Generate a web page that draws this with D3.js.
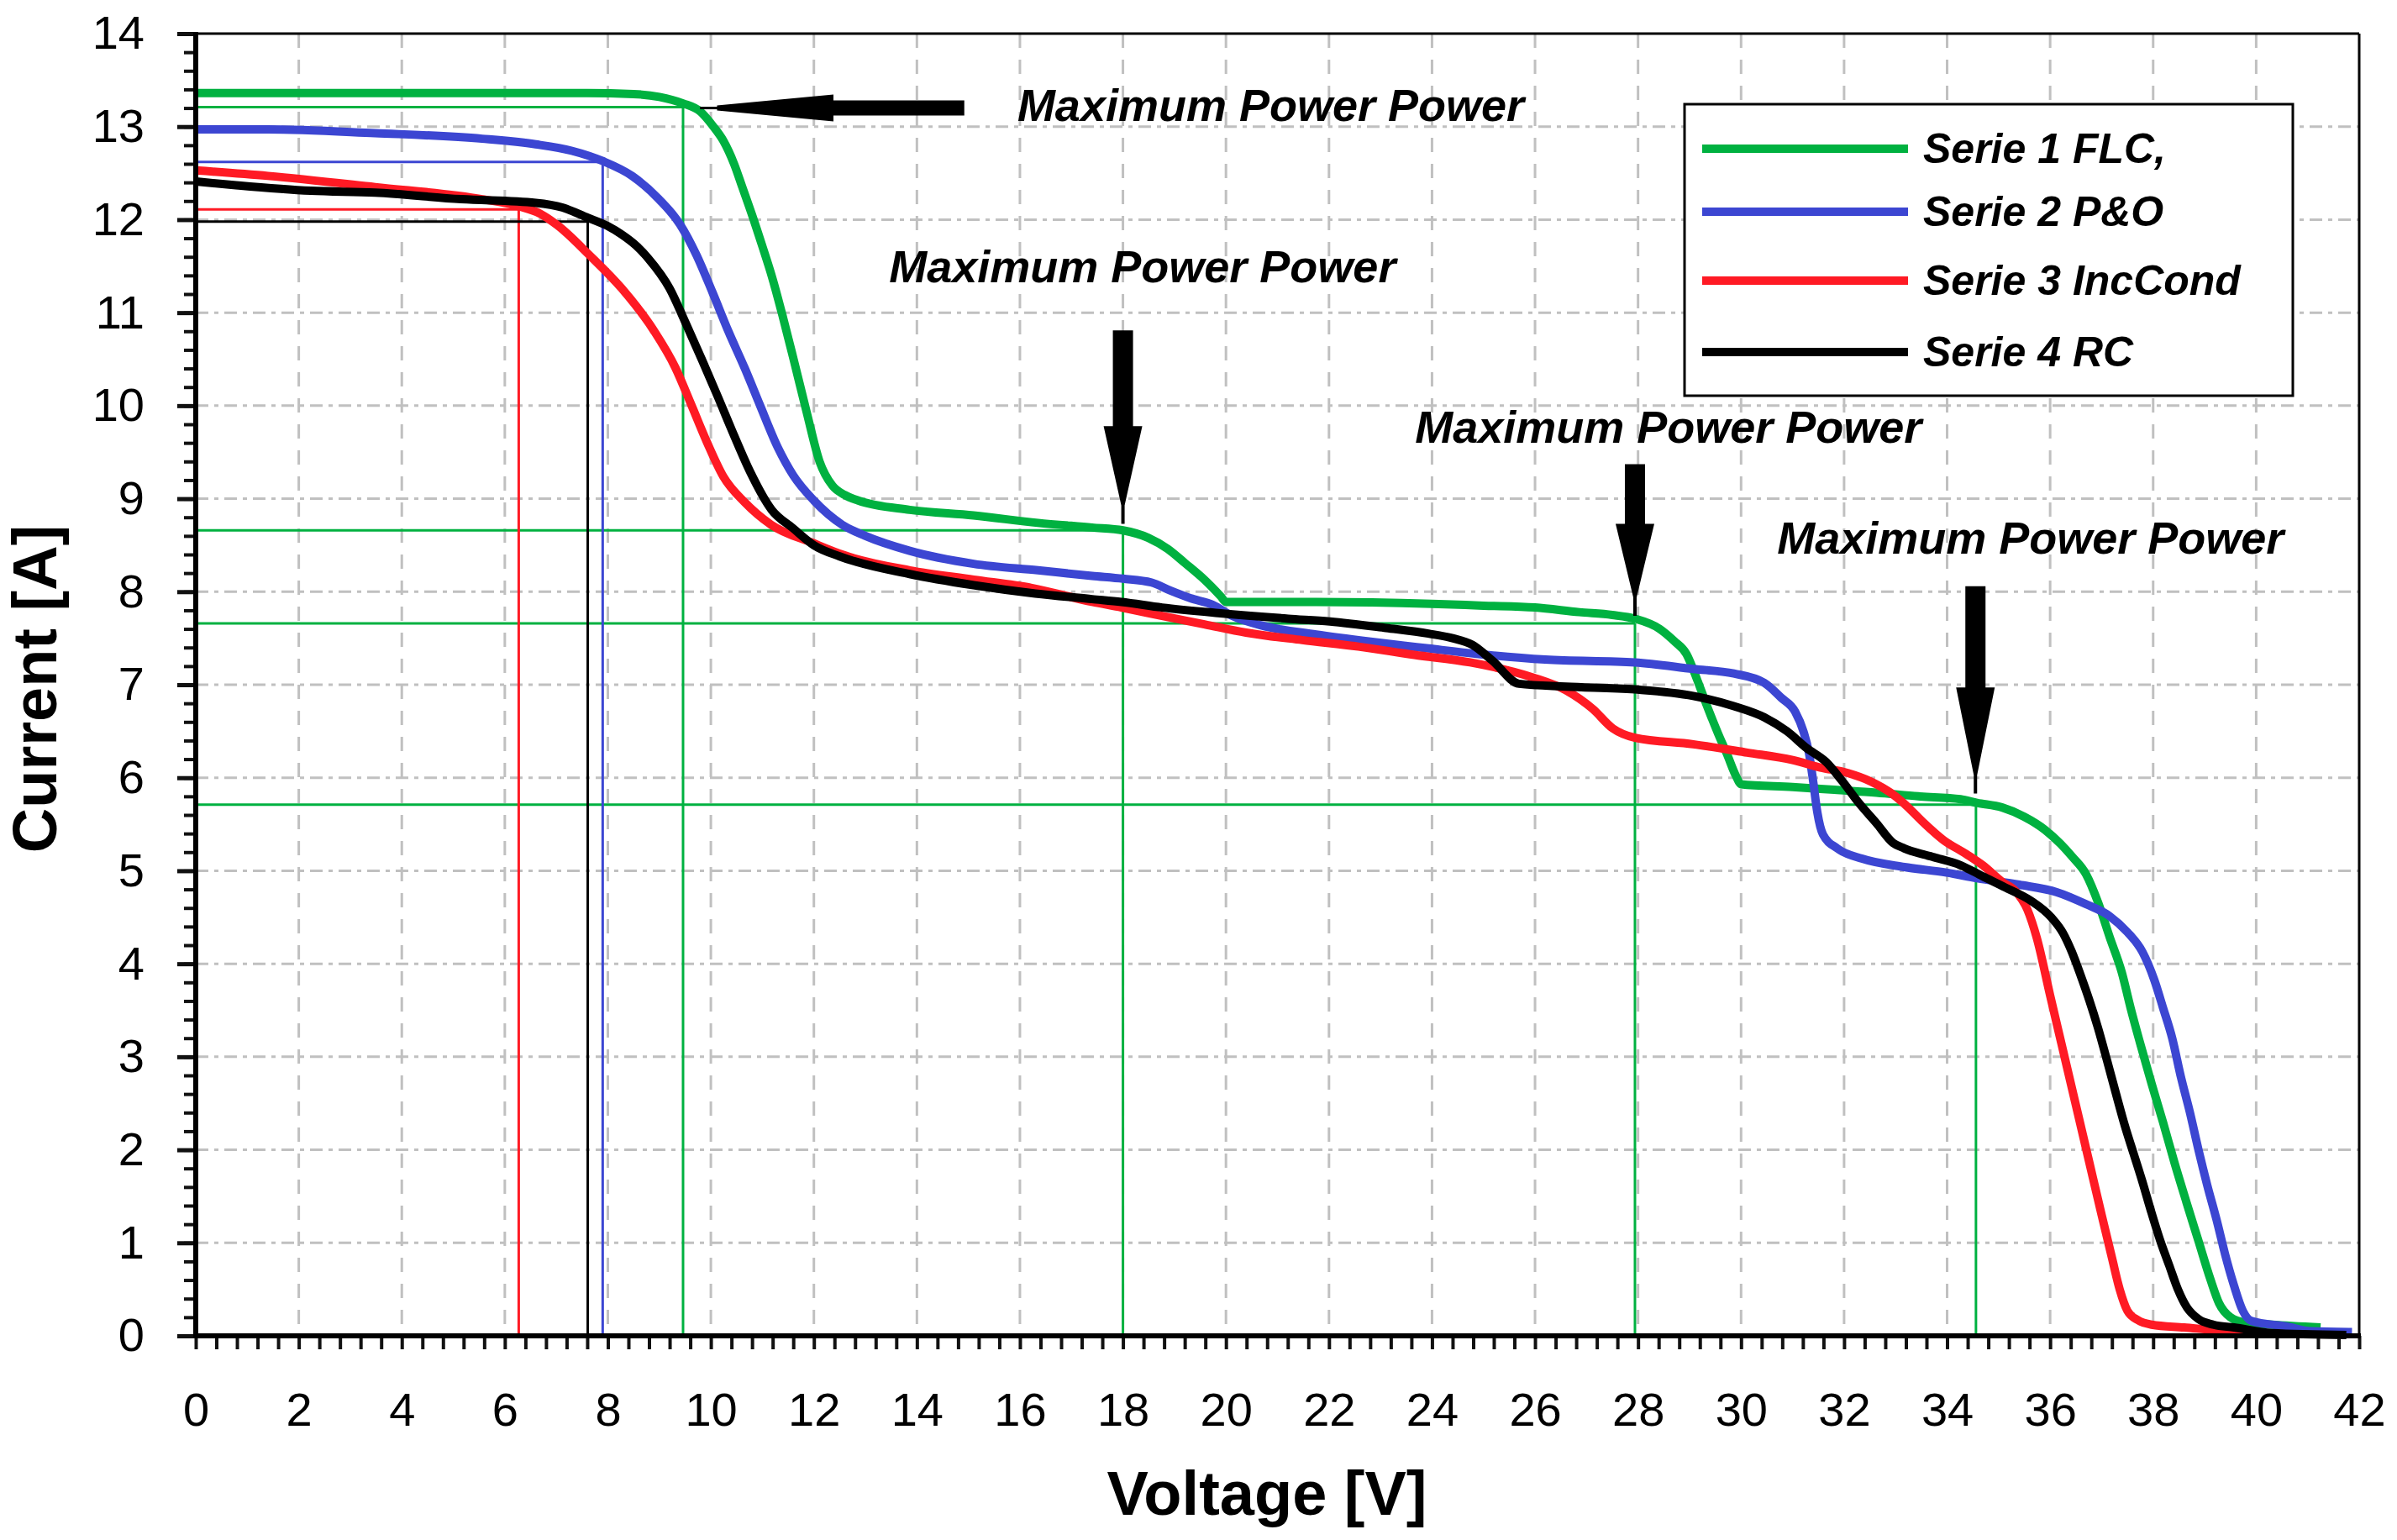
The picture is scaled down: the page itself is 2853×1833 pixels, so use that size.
<!DOCTYPE html>
<html><head><meta charset="utf-8">
<script src="https://cdn.jsdelivr.net/npm/d3@7"></script>
<style>body{margin:0;background:#fff} svg{display:block}</style>
</head><body>
<svg id="c" width="2853" height="1833"></svg>
<script>
// ---------------- data ----------------
const xTicks = d3.range(0, 43, 2);
const yTicks = d3.range(0, 15, 1);
const xTitle = "Voltage [V]";
const yTitle = "Current [A]";
const seriesNames = ["Serie 1 FLC,", "Serie 2 P&O", "Serie 3 IncCond", "Serie 4 RC"];
const seriesColors = ["#00b140", "#3c46d2", "#ff1a24", "#000000"];

const flc = [[0,13.36],[2,13.36],[4,13.36],[6,13.36],[7.6,13.36],[8.5,13.35],[9.0,13.32],[9.46,13.25],[9.8,13.16],[10.05,13.0],[10.24,12.85],[10.45,12.6],[10.61,12.35],[10.8,12.05],[10.99,11.73],[11.2,11.36],[11.4,10.95],[11.61,10.49],[11.86,9.93],[12.11,9.4],[12.36,9.14],[12.6,9.04],[12.86,8.98],[13.86,8.88],[15.1,8.82],[16.35,8.74],[17.4,8.69],[18.0,8.66],[18.49,8.58],[18.87,8.46],[19.2,8.31],[19.58,8.13],[19.9,7.95],[20.0,7.89],[21.75,7.89],[24.0,7.87],[25.0,7.85],[26.0,7.83],[26.86,7.78],[27.5,7.75],[27.94,7.71],[28.42,7.6],[28.7,7.47],[28.94,7.33],[29.15,7.05],[29.34,6.77],[29.55,6.48],[29.73,6.25],[29.9,6.02],[30.0,5.93],[31.0,5.9],[31.81,5.87],[32.63,5.84],[33.44,5.8],[34.26,5.77],[34.58,5.73],[35.07,5.68],[35.5,5.58],[35.9,5.44],[36.2,5.29],[36.43,5.15],[36.7,4.96],[36.93,4.66],[37.16,4.28],[37.39,3.91],[37.56,3.53],[37.74,3.16],[37.97,2.71],[38.19,2.3],[38.42,1.85],[38.65,1.43],[38.88,1.02],[39.11,0.61],[39.28,0.35],[39.5,0.2],[39.8,0.14],[40.3,0.12],[41.25,0.09]];

const po = [[0,12.97],[1.4,12.97],[3.48,12.93],[5.56,12.87],[6.6,12.81],[7.3,12.74],[7.9,12.63],[8.47,12.47],[8.99,12.22],[9.4,11.95],[9.72,11.62],[10.03,11.22],[10.34,10.8],[10.66,10.4],[10.95,10.01],[11.3,9.55],[11.6,9.25],[12.0,8.98],[12.55,8.72],[13.0,8.6],[13.86,8.44],[15.1,8.3],[16.35,8.23],[17.4,8.17],[18.0,8.14],[18.55,8.1],[18.93,8.01],[19.31,7.93],[19.74,7.86],[20.12,7.74],[20.67,7.64],[21.75,7.54],[22.84,7.46],[23.93,7.39],[24.9,7.33],[26.2,7.27],[27.94,7.24],[29.07,7.17],[29.86,7.12],[30.45,7.02],[30.78,6.86],[31.05,6.71],[31.21,6.5],[31.32,6.26],[31.4,5.96],[31.48,5.63],[31.59,5.39],[31.87,5.24],[32.35,5.13],[33.17,5.04],[33.99,4.98],[34.58,4.92],[35.4,4.85],[36.13,4.77],[36.7,4.64],[37.16,4.51],[37.5,4.34],[37.79,4.13],[38.02,3.83],[38.19,3.53],[38.37,3.2],[38.54,2.78],[38.71,2.41],[38.88,2.0],[39.05,1.62],[39.23,1.25],[39.4,0.87],[39.57,0.54],[39.74,0.27],[39.91,0.16],[40.6,0.1],[41.06,0.05],[41.86,0.04]];

const inc = [[0,12.53],[1.4,12.47],[3.48,12.35],[5.56,12.22],[6.3,12.14],[6.7,12.06],[7.02,11.94],[7.64,11.62],[8.27,11.26],[8.89,10.81],[9.31,10.41],[9.62,10.01],[9.93,9.6],[10.24,9.24],[10.66,8.96],[11.17,8.72],[12.0,8.52],[12.6,8.39],[13.86,8.23],[15.1,8.13],[16.23,8.04],[17.4,7.89],[17.97,7.83],[18.76,7.74],[19.58,7.65],[20.39,7.56],[21.48,7.48],[22.57,7.41],[23.66,7.32],[24.74,7.24],[25.95,7.08],[26.6,6.94],[27.12,6.74],[27.51,6.53],[27.94,6.43],[29.07,6.36],[30.12,6.27],[31.0,6.19],[31.54,6.11],[32.08,6.05],[32.52,5.96],[32.9,5.84],[33.17,5.72],[33.5,5.54],[33.93,5.33],[34.37,5.18],[34.69,5.06],[35.07,4.88],[35.33,4.78],[35.56,4.58],[35.74,4.28],[36.0,3.66],[36.25,3.07],[36.5,2.48],[36.75,1.89],[37.0,1.3],[37.2,0.84],[37.35,0.5],[37.5,0.27],[37.7,0.17],[37.97,0.12],[38.6,0.09],[39.46,0.05],[40.34,0.02]];

const rc = [[0,12.41],[0.78,12.37],[2.23,12.31],[3.48,12.29],[5.15,12.22],[6.6,12.18],[7.12,12.13],[7.61,12.02],[8.0,11.93],[8.27,11.84],[8.55,11.72],[8.79,11.58],[9.2,11.26],[9.51,10.89],[9.83,10.49],[10.14,10.09],[10.45,9.68],[10.77,9.28],[11.18,8.88],[11.6,8.68],[12.0,8.5],[12.5,8.38],[13.86,8.19],[15.1,8.07],[16.3,7.98],[17.4,7.92],[17.97,7.89],[18.76,7.83],[19.85,7.77],[21.21,7.71],[22.02,7.68],[23.11,7.61],[23.93,7.55],[24.4,7.5],[24.78,7.43],[25.17,7.26],[25.69,7.01],[26.6,6.98],[27.94,6.95],[29.07,6.88],[29.86,6.77],[30.45,6.65],[30.89,6.5],[31.27,6.32],[31.65,6.17],[31.97,5.96],[32.3,5.72],[32.63,5.51],[32.95,5.3],[33.17,5.24],[33.71,5.15],[34.26,5.06],[34.69,4.94],[35.13,4.82],[35.62,4.68],[36.02,4.5],[36.25,4.33],[36.42,4.13],[36.59,3.88],[36.76,3.61],[36.93,3.31],[37.1,2.97],[37.28,2.6],[37.45,2.26],[37.62,1.96],[37.79,1.66],[37.97,1.32],[38.14,1.02],[38.31,0.76],[38.48,0.5],[38.65,0.31],[38.88,0.18],[39.17,0.12],[39.57,0.09],[40.3,0.03],[41.75,0.01]];

// maximum power points (V, I) marked by the thin guide lines
const mppFLC = [[9.46,13.21],[18.0,8.66],[27.94,7.66],[34.56,5.71]];
const mppPO = [[7.9,12.62]];
const mppInc = [[6.27,12.11]];
const mppRC = [[7.61,11.98]];

const annotationText = "Maximum Power Power";
const annotationAt = [[15.95,13.06],[13.46,11.33],[23.67,9.6],[30.7,8.41]];
// vertical arrows: x, shaft top, head base, tip (data units)
const downArrows = [[18.0,10.81,9.78,8.73],[27.94,9.37,8.73,7.74],[34.55,8.06,6.97,5.83]];
// horizontal arrow: y, line start, head tip, head base, tail (data units)
const leftArrow = [13.2, 9.79, 10.12, 12.38, 14.92];

// ---------------- drawing ----------------
const svg = d3.select("#c");
const FONT = "'Liberation Sans', Arial, sans-serif";
const x = d3.scaleLinear().domain([0, 42]).range([233, 2808]);
const y = d3.scaleLinear().domain([0, 14]).range([1590, 40]);

svg.append("rect").attr("width", 2853).attr("height", 1833).attr("fill", "#fff");

// grid
const grid = svg.append("g");
grid.selectAll("line.v").data(xTicks.filter(d => d > 0 && d < 42)).join("line")
  .attr("x1", d => x(d)).attr("x2", d => x(d)).attr("y1", y(14)).attr("y2", y(0))
  .attr("stroke", "#c0c0c0").attr("stroke-width", 3).attr("stroke-dasharray", "17,14");
grid.selectAll("line.h").data(yTicks.filter(d => d > 0 && d < 14)).join("line")
  .attr("x1", x(0)).attr("x2", x(42)).attr("y1", d => y(d)).attr("y2", d => y(d))
  .attr("stroke", "#c0c0c0").attr("stroke-width", 3).attr("stroke-dasharray", "15,7,5,7");

// guide lines for MPPs
const guides = svg.append("g");
function guideLines(pts, color) {
  pts.forEach(([v, i]) => {
    guides.append("line").attr("x1", x(0)).attr("x2", x(v)).attr("y1", y(i)).attr("y2", y(i))
      .attr("stroke", color).attr("stroke-width", 3);
    guides.append("line").attr("x1", x(v)).attr("x2", x(v)).attr("y1", y(0)).attr("y2", y(i))
      .attr("stroke", color).attr("stroke-width", 3);
  });
}
guideLines(mppFLC, seriesColors[0]);
guideLines(mppPO, seriesColors[1]);
guideLines(mppInc, seriesColors[2]);
guideLines(mppRC, seriesColors[3]);

// curves
const line = d3.line().x(d => x(d[0])).y(d => y(d[1])).curve(d3.curveMonotoneX);
[flc, po, inc, rc].forEach((s, k) => {
  svg.append("path").attr("d", line(s)).attr("fill", "none")
    .attr("stroke", seriesColors[k]).attr("stroke-width", 10)
    .attr("stroke-linejoin", "round");
});

// frame
svg.append("line").attr("x1", x(0)).attr("x2", x(42)).attr("y1", y(14)).attr("y2", y(14))
  .attr("stroke", "#000").attr("stroke-width", 3);
svg.append("line").attr("x1", x(42)).attr("x2", x(42)).attr("y1", y(14)).attr("y2", y(0))
  .attr("stroke", "#000").attr("stroke-width", 3);

// x axis: minor ticks (0.4) and labels
const xMinor = svg.append("g").attr("transform", `translate(0,${y(0)})`)
  .call(d3.axisBottom(x).tickValues(d3.range(0, 42.01, 0.4)).tickSize(16).tickFormat(""));
xMinor.select(".domain").remove();
xMinor.selectAll(".tick line").attr("stroke", "#111").attr("stroke-width", 4);
const xLab = svg.append("g").attr("transform", `translate(0,${y(0)})`)
  .call(d3.axisBottom(x).tickValues(xTicks).tickSize(0).tickPadding(67).tickFormat(d3.format("d")));
xLab.select(".domain").remove();
xLab.selectAll("text").attr("font-family", FONT).attr("font-size", 56).attr("fill", "#000");

// y axis: minor ticks (0.2), major ticks, labels
const yMinor = svg.append("g").attr("transform", `translate(${x(0)},0)`)
  .call(d3.axisLeft(y).tickValues(d3.range(0, 14.01, 0.2)).tickSize(14).tickFormat(""));
yMinor.select(".domain").remove();
yMinor.selectAll(".tick line").attr("stroke", "#111").attr("stroke-width", 4);
const yMaj = svg.append("g").attr("transform", `translate(${x(0)},0)`)
  .call(d3.axisLeft(y).tickValues(yTicks).tickSize(22).tickPadding(39).tickFormat(d3.format("d")));
yMaj.select(".domain").remove();
yMaj.selectAll(".tick line").attr("stroke", "#111").attr("stroke-width", 5);
yMaj.selectAll("text").attr("font-family", FONT).attr("font-size", 56).attr("fill", "#000");

// thick axis lines
svg.append("line").attr("x1", x(0)).attr("x2", x(0)).attr("y1", y(14) - 2).attr("y2", y(0) + 3)
  .attr("stroke", "#000").attr("stroke-width", 6);
svg.append("line").attr("x1", x(0) - 3).attr("x2", x(42) + 2).attr("y1", y(0)).attr("y2", y(0))
  .attr("stroke", "#000").attr("stroke-width", 6);

// axis titles
svg.append("text").text(xTitle).attr("x", 1508).attr("y", 1803)
  .attr("text-anchor", "middle").attr("font-family", FONT).attr("font-weight", "bold")
  .attr("font-size", 74).attr("fill", "#000");
svg.append("text").text(yTitle)
  .attr("transform", "translate(67,820) rotate(-90)")
  .attr("text-anchor", "middle").attr("font-family", FONT).attr("font-weight", "bold")
  .attr("font-size", 74).attr("fill", "#000");

// annotations
annotationAt.forEach(([v, i]) => {
  svg.append("text").text(annotationText).attr("x", x(v)).attr("y", y(i))
    .attr("font-family", FONT).attr("font-weight", "bold").attr("font-style", "italic")
    .attr("font-size", 54).attr("fill", "#000");
});

// arrows
downArrows.forEach(([v, top, base, tip]) => {
  const X = x(v), yT = y(top), yB = y(base), yP = y(tip), sw = 24, hw = 46;
  svg.append("polygon").attr("fill", "#000").attr("points", [
    [X - sw / 2, yT], [X + sw / 2, yT], [X + sw / 2, yB], [X + hw / 2, yB],
    [X + 2, yP - 22], [X + 2, yP], [X - 2, yP], [X - 2, yP - 22],
    [X - hw / 2, yB], [X - sw / 2, yB]].map(p => p.join(",")).join(" "));
});
{
  const [i, start, tip, base, tail] = leftArrow;
  const Y = y(i), sw = 18, hw = 32;
  svg.append("line").attr("x1", x(start)).attr("x2", x(tip) + 4).attr("y1", Y).attr("y2", Y)
    .attr("stroke", "#000").attr("stroke-width", 3);
  svg.append("polygon").attr("fill", "#000").attr("points", [
    [x(tip), Y - 3], [x(base), Y - hw / 2], [x(base), Y - sw / 2], [x(tail), Y - sw / 2],
    [x(tail), Y + sw / 2], [x(base), Y + sw / 2], [x(base), Y + hw / 2], [x(tip), Y + 3]]
    .map(p => p.join(",")).join(" "));
}

// legend
const lg = svg.append("g");
lg.append("rect").attr("x", 2005).attr("y", 124).attr("width", 724).attr("height", 347)
  .attr("fill", "#fff").attr("stroke", "#000").attr("stroke-width", 3);
const rowY = [177, 252, 334, 419];
seriesNames.forEach((name, k) => {
  lg.append("line").attr("x1", 2026).attr("x2", 2271).attr("y1", rowY[k]).attr("y2", rowY[k])
    .attr("stroke", seriesColors[k]).attr("stroke-width", 10);
  lg.append("text").text(name).attr("x", 2289).attr("y", rowY[k] + 17)
    .attr("font-family", FONT).attr("font-weight", "bold").attr("font-style", "italic")
    .attr("font-size", 50).attr("fill", "#000");
});
</script>
</body></html>
